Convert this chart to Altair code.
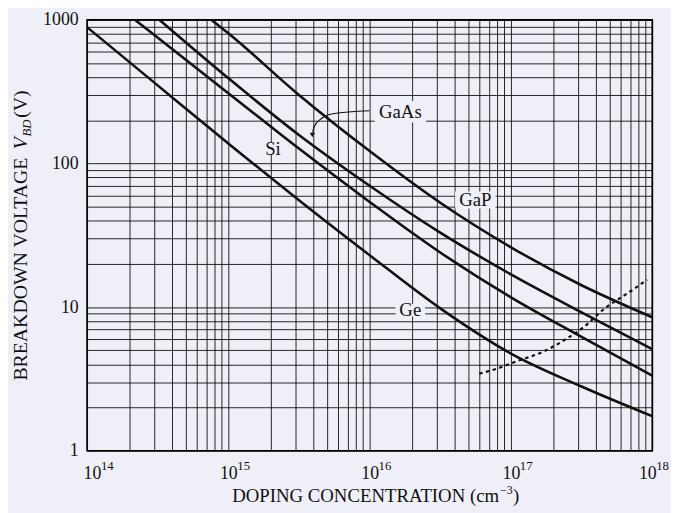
import json
import altair as alt
import pandas as pd

# ---------------- data ----------------
ge_n = [1e14, 3.16e14, 1e15, 3.16e15, 1e16, 3.16e16, 1e17, 3.16e17, 1e18]
ge_v = [890, 350, 138, 55.5, 23, 9.8, 4.75, 2.8, 1.74]

si_n = [2.19e14, 1e15, 3.16e15, 1e16, 3.16e16, 1e17, 3.16e17, 1e18]
si_v = [1000, 309, 127, 54, 24, 11.7, 6.2, 3.33]

gaas_n = [3.26e14, 1e15, 3.16e15, 1e16, 3.16e16, 1e17, 3.16e17, 1e18]
gaas_v = [1000, 393, 158, 70, 33, 16.9, 9.2, 5.1]

gap_n = [7.6e14, 1e15, 3.16e15, 1e16, 3.16e16, 1e17, 3.16e17, 1e18]
gap_v = [1000, 807, 300, 122, 53.3, 26.1, 14.2, 8.5]

# dotted boundary line
tun_n = [5.97e16, 7.9e16, 1.1e17, 1.7e17, 2.46e17, 3.24e17, 4.68e17, 6.46e17, 9.2e17]
tun_v = [3.44, 3.72, 4.2, 4.9, 6.0, 7.2, 9.9, 12.2, 15.5]

# curve labels
label_text = ["Si", "GaAs", "GaP", "Ge"]
label_n = [2.07e15, 1.65e16, 5.6e16, 1.94e16]
label_v = [127, 229, 55.8, 9.5]

# GaAs pointer arrow
arrow_n = [1.0e16, 5.5e15, 4.54e15, 4.06e15, 3.95e15]
arrow_v = [233, 222, 205, 181, 165]
arrow_tip_n = [3.93e15]
arrow_tip_v = [158]

x_decades = [1e14, 1e15, 1e16, 1e17, 1e18]
x_exponents = ["14", "15", "16", "17", "18"]
y_tick_labels = ["1", "10", "100", "1000"]

x_grid = [k * 10.0 ** e for e in range(14, 18) for k in range(1, 10)] + [1e18]
y_grid = [k * 10.0 ** e for e in range(0, 3) for k in range(1, 10)] + [1000.0]

FONT = "Liberation Serif"
INK = "#111111"
BG = "#eff0f7"
PLOT_W, PLOT_H = 572, 436

rows = []
for name, ns, vs in [("Ge", ge_n, ge_v), ("Si", si_n, si_v),
                     ("GaAs", gaas_n, gaas_v), ("GaP", gap_n, gap_v)]:
    for i, (n, v) in enumerate(zip(ns, vs)):
        rows.append({"material": name, "N": n, "V": v, "i": i})
curves_df = pd.DataFrame(rows)
tun_df = pd.DataFrame({"N": tun_n, "V": tun_v, "i": range(len(tun_n))})
labels_df = pd.DataFrame({"text": label_text, "N": label_n, "V": label_v})
arrow_df = pd.DataFrame({"N": arrow_n, "V": arrow_v, "i": range(len(arrow_n))})
tip_df = pd.DataFrame({"N": arrow_tip_n, "V": arrow_tip_v})
exp_df = pd.DataFrame({"N": x_decades, "e": x_exponents, "k": range(len(x_decades))})

decade_test = "abs(log(datum.value)/LN10 - round(log(datum.value)/LN10)) < 0.001"
x_label_expr = decade_test + " ? '10' : ''"
y_label_expr = (decade_test + " ? " + json.dumps(y_tick_labels)
                + "[round(log(datum.value)/LN10)] : ''")

xscale = alt.Scale(type="log", domain=[1e14, 1e18], nice=False)
yscale = alt.Scale(type="log", domain=[1, 1000], nice=False)

x_enc = alt.X(
    "N:Q", scale=xscale,
    axis=alt.Axis(
        values=x_grid, labelExpr=x_label_expr, labelOverlap=False, labelFlush=True,
        labelFlushOffset=4,
        labelFontSize=18, labelPadding=14, labelBaseline="top", title=None,
    ),
)
y_enc = alt.Y(
    "V:Q", scale=yscale,
    axis=alt.Axis(
        values=y_grid, labelExpr=y_label_expr, labelOverlap=False, labelFlush=False,
        labelFontSize=18, labelPadding=9, title=None,
    ),
)

boxes = alt.Chart(labels_df).transform_calculate(
    sz="pow(length(datum.text) * 11 + 8, 2)"
).mark_point(
    shape="M-1,-0.42L1,-0.42L1,0.42L-1,0.42Z", filled=True, fill=BG, stroke=None, opacity=1
).encode(x=x_enc, y=y_enc, size=alt.Size("sz:Q", scale=None, legend=None))

curves = alt.Chart(curves_df).mark_line(
    color=INK, strokeWidth=2.6, interpolate="monotone"
).encode(x=alt.X("N:Q", scale=xscale), y=alt.Y("V:Q", scale=yscale),
         detail="material:N", order="i:Q")

tun = alt.Chart(tun_df).mark_line(
    color=INK, strokeWidth=2.2, strokeDash=[3.5, 3.5], interpolate="monotone"
).encode(x=alt.X("N:Q", scale=xscale), y=alt.Y("V:Q", scale=yscale), order="i:Q")

arrow = alt.Chart(arrow_df).mark_line(
    color=INK, strokeWidth=1.2, interpolate="monotone"
).encode(x=alt.X("N:Q", scale=xscale), y=alt.Y("V:Q", scale=yscale), order="i:Q")

tip = alt.Chart(tip_df).mark_point(
    shape="triangle-down", filled=True, color=INK, size=28, opacity=1
).encode(x=alt.X("N:Q", scale=xscale), y=alt.Y("V:Q", scale=yscale))

labels = alt.Chart(labels_df).mark_text(
    font=FONT, fontSize=19, color=INK, align="center", baseline="middle"
).encode(x=alt.X("N:Q", scale=xscale), y=alt.Y("V:Q", scale=yscale), text="text:N")


# superscript exponents of the x tick labels (first/last labels are flush)
def exps(filter_expr, dx):
    return alt.Chart(exp_df).transform_filter(filter_expr).mark_text(
        font=FONT, fontSize=13, color=INK, align="left", baseline="alphabetic", dx=dx
    ).encode(x=alt.X("N:Q", scale=xscale), y=alt.value(PLOT_H + 20), text="e:N")


last_k = len(x_decades) - 1
exps_mid = exps(f"datum.k > 0 && datum.k < {last_k}", 9)
exps_first = exps("datum.k == 0", 14)
exps_last = exps(f"datum.k == {last_k}", 4)


def piece(txt, x, y, size, style="normal", angle=0, align="left"):
    return alt.Chart(pd.DataFrame({"t": [txt]})).mark_text(
        font=FONT, fontSize=size, fontStyle=style, color=INK, angle=angle,
        align=align, baseline="alphabetic"
    ).encode(x=alt.value(x), y=alt.value(y), text="t:N")


ytitle = (
    piece("BREAKDOWN VOLTAGE", -61, 365, 20, angle=270)
    + piece("V", -61, 131, 20, "italic", angle=270)
    + piece("BD", -57, 118, 13, "italic", angle=270)
    + piece("(V)", -61, 99, 20, angle=270)
)

xtitle = (
    piece("DOPING CONCENTRATION (cm", 417, 488, 19, align="right")
    + piece("\u22123", 418, 480, 12)
    + piece(")", 431, 488, 19)
)

chart = alt.layer(boxes, curves, tun, arrow, tip, labels,
                  exps_mid, exps_first, exps_last, ytitle, xtitle).properties(
    width=PLOT_W, height=PLOT_H,
    autosize=alt.AutoSizeParams(type="none"),
    padding={"left": 80, "top": 9, "right": 19, "bottom": 60},
    background=BG,
).configure_axis(
    labelFont=FONT, titleFont=FONT, labelColor=INK, titleColor=INK,
    domain=False, ticks=False, grid=True, gridColor="#000000", gridWidth=1.0,
    gridOpacity=0.85,
).configure_view(stroke="#000000", strokeWidth=1.6)

chart.save("out.html", embed_options={"renderer": "svg", "actions": False})
